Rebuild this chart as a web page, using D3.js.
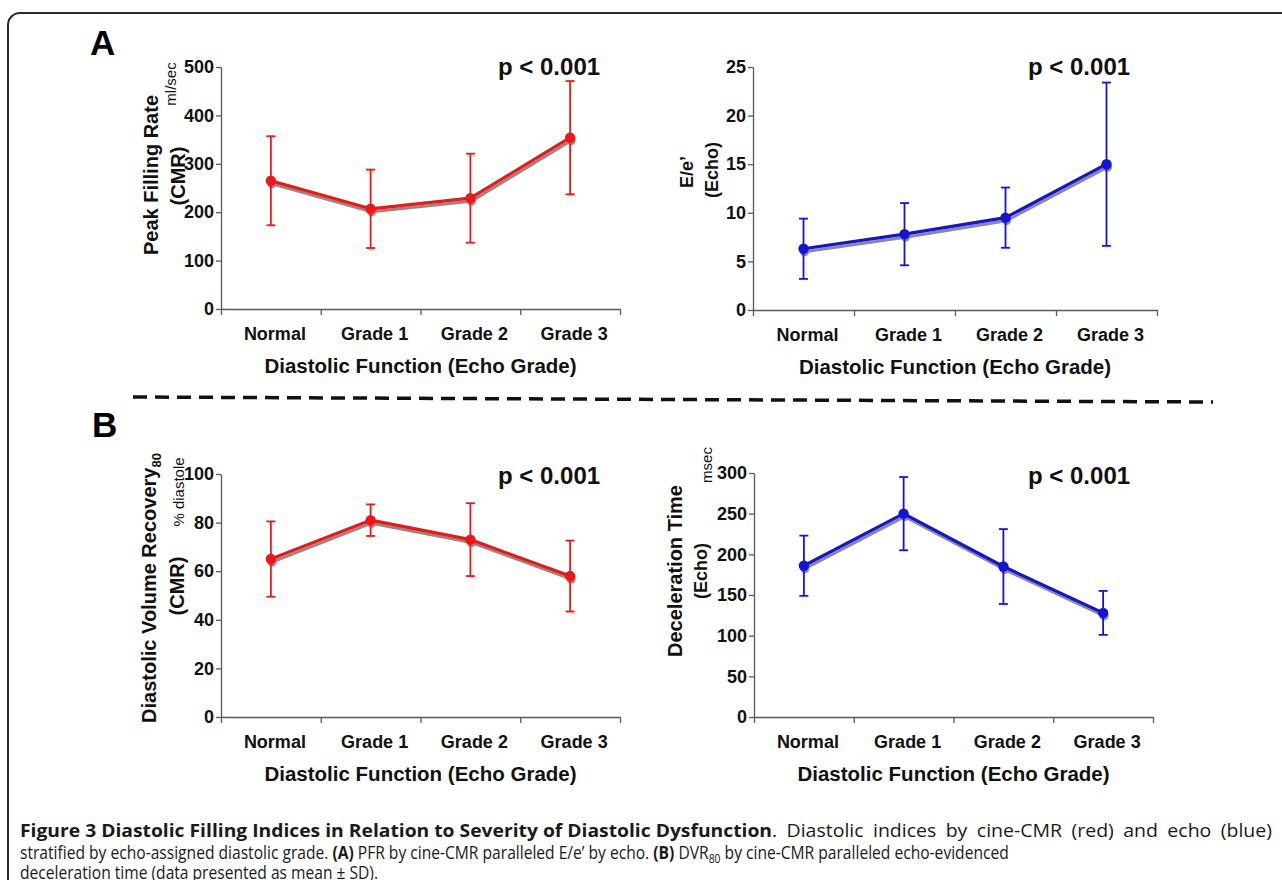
<!DOCTYPE html>
<html>
<head>
<meta charset="utf-8">
<script src="https://cdn.jsdelivr.net/npm/d3@7"></script>
<style>
body { margin: 0; background: #fff; }
svg { display: block; font-family: "Liberation Sans", Arial, Helvetica, sans-serif; }
</style>
</head>
<body>
<svg width="1282" height="880"></svg>
<script>
var grades = ["Normal", "Grade 1", "Grade 2", "Grade 3"];

// PFR by cine-CMR (ml/sec), mean and SD
var pfrMean = [265, 207, 229, 354];
var pfrSD = [92, 81, 92, 117];
var pfrTicks = [0, 100, 200, 300, 400, 500];

// E/e' by echo
var eeMean = [6.3, 7.8, 9.5, 15.0];
var eeSD = [3.1, 3.2, 3.1, 8.4];
var eeTicks = [0, 5, 10, 15, 20, 25];

// DVR80 by cine-CMR (% diastole)
var dvrMean = [65, 81, 73, 58];
var dvrSD = [15.5, 6.5, 15, 14.6];
var dvrTicks = [0, 20, 40, 60, 80, 100];

// deceleration time by echo (msec)
var dtMean = [186, 250, 185, 128];
var dtSD = [37, 45, 46, 27];
var dtTicks = [0, 50, 100, 150, 200, 250, 300];

var pLabel = "p < 0.001";
var xTitle = "Diastolic Function (Echo Grade)";

var red = "#f41414";
var blue = "#1414d8";

var svg = d3.select('svg');

// frame round the figure
svg.append('rect')
    .attr('x', 8).attr('y', 13)
    .attr('width', 1400).attr('height', 1000)
    .attr('rx', 12)
    .attr('fill', 'none')
    .attr('stroke', '#2a2a2a')
    .attr('stroke-width', 2);

var drawPanel = function (opt) {
    let w = opt.width, h = opt.height;
    let g = svg.append('g')
        .attr('transform', 'translate(' + opt.left + ',' + opt.top + ')');

    let xScale = d3.scaleBand().domain(grades).range([0, w]);
    let yScale = d3.scaleLinear().domain([0, d3.max(opt.ticks)]).range([h, 0]);
    let cx = function (i) { return xScale(grades[i]) + xScale.bandwidth() / 2; };

    let yAxis = d3.axisLeft(yScale)
        .tickValues(opt.ticks)
        .tickSize(5)
        .tickSizeOuter(0)
        .tickPadding(2);
    let yGroup = g.append('g').call(yAxis);

    // ticks sit on the band edges
    let edges = d3.scaleLinear().domain([0, grades.length]).range([0, w]);
    let xAxis = d3.axisBottom(edges)
        .tickValues(d3.range(grades.length + 1))
        .tickSize(6)
        .tickSizeOuter(0)
        .tickFormat('');
    let xGroup = g.append('g').attr('transform', 'translate(0,' + h + ')').call(xAxis);

    let labelAxis = d3.axisBottom(xScale).tickSize(0).tickPadding(18);
    let lGroup = g.append('g').attr('transform', 'translate(0,' + h + ')').call(labelAxis);
    lGroup.select('.domain').remove();
    lGroup.selectAll('text').attr('dx', 4);

    [yGroup, xGroup].forEach(function (a) {
        a.selectAll('.domain, line').attr('stroke', '#5a5a5a').attr('stroke-width', 1.3);
    });
    [yGroup, lGroup].forEach(function (a) {
        a.selectAll('text')
            .attr('font-size', 18)
            .attr('font-weight', 'bold')
            .attr('font-family', '"Liberation Sans", Arial, sans-serif')
            .attr('fill', '#111');
    });

    g.append('text')
        .attr('x', w / 2).attr('y', h + 64)
        .attr('text-anchor', 'middle')
        .attr('font-size', 20.5)
        .attr('font-weight', 'bold')
        .attr('fill', '#111')
        .text(xTitle);

    let line = d3.line()
        .x(function (d, i) { return cx(i); })
        .y(function (d) { return yScale(d); });

    // grey drop shadow under the line and dots
    let shadow = g.append('g').attr('transform', 'translate(1,3)');
    shadow.append('path')
        .datum(opt.mean)
        .attr('fill', 'none')
        .attr('stroke', '#8c8c8c')
        .attr('stroke-width', 3)
        .attr('stroke-linejoin', 'round')
        .attr('d', line);
    shadow.selectAll('circle')
        .data(opt.mean)
        .enter()
        .append('circle')
        .attr('cx', function (d, i) { return cx(i); })
        .attr('cy', function (d) { return yScale(d); })
        .attr('r', 4.5)
        .attr('fill', '#8c8c8c');

    let bars = g.append('g')
        .attr('stroke', opt.color)
        .attr('stroke-width', 1.8);
    opt.mean.forEach(function (m, i) {
        let lo = yScale(m - opt.sd[i]), hi = yScale(m + opt.sd[i]);
        bars.append('line').attr('x1', cx(i)).attr('x2', cx(i)).attr('y1', lo).attr('y2', hi);
        bars.append('line').attr('x1', cx(i) - 4.5).attr('x2', cx(i) + 4.5).attr('y1', lo).attr('y2', lo);
        bars.append('line').attr('x1', cx(i) - 4.5).attr('x2', cx(i) + 4.5).attr('y1', hi).attr('y2', hi);
    });

    g.append('path')
        .datum(opt.mean)
        .attr('fill', 'none')
        .attr('stroke', opt.color)
        .attr('stroke-width', 3.2)
        .attr('stroke-linejoin', 'round')
        .attr('d', line);

    g.selectAll('circle.dot')
        .data(opt.mean)
        .enter()
        .append('circle')
        .attr('class', 'dot')
        .attr('cx', function (d, i) { return cx(i); })
        .attr('cy', function (d) { return yScale(d); })
        .attr('r', 5.2)
        .attr('fill', opt.color);

    g.append('text')
        .attr('x', opt.pX - opt.left).attr('y', opt.pY - opt.top)
        .attr('font-size', 24)
        .attr('font-weight', 'bold')
        .attr('fill', '#111')
        .text(pLabel);

    // rotated y titles
    opt.titles.forEach(function (t) {
        let txt = svg.append('text')
            .attr('transform', 'translate(' + t.x + ',' + t.y + ')rotate(-90)')
            .attr('text-anchor', 'middle')
            .attr('font-size', t.size)
            .attr('font-weight', t.bold ? 'bold' : 'normal')
            .attr('fill', '#111');
        txt.append('tspan').text(t.text);
        if (t.sub) {
            txt.append('tspan')
                .attr('font-size', 13)
                .attr('baseline-shift', -5)
                .text(t.sub);
        }
    });
};

drawPanel({
    left: 221, top: 67, width: 399, height: 242,
    ticks: pfrTicks, mean: pfrMean, sd: pfrSD, color: red,
    pX: 498, pY: 75,
    titles: [
        {text: "Peak Filling Rate", x: 158, y: 175, size: 20, bold: true},
        {text: "(CMR)", x: 185, y: 176, size: 20, bold: true},
        {text: "ml/sec", x: 176, y: 84, size: 15, bold: false}
    ]
});

drawPanel({
    left: 753, top: 67, width: 404, height: 243,
    ticks: eeTicks, mean: eeMean, sd: eeSD, color: blue,
    pX: 1028, pY: 75,
    titles: [
        {text: "E/e\u2019", x: 693, y: 172, size: 18, bold: true},
        {text: "(Echo)", x: 718, y: 170, size: 18, bold: true}
    ]
});

drawPanel({
    left: 221, top: 474, width: 399, height: 243,
    ticks: dvrTicks, mean: dvrMean, sd: dvrSD, color: red,
    pX: 498, pY: 484,
    titles: [
        {text: "Diastolic Volume Recovery", sub: "80", x: 156, y: 588, size: 20, bold: true},
        {text: "(CMR)", x: 184, y: 586, size: 20, bold: true},
        {text: "% diastole", x: 184, y: 492, size: 15, bold: false}
    ]
});

drawPanel({
    left: 754, top: 473, width: 399, height: 244,
    ticks: dtTicks, mean: dtMean, sd: dtSD, color: blue,
    pX: 1028, pY: 484,
    titles: [
        {text: "Deceleration Time", x: 682, y: 571, size: 20, bold: true},
        {text: "(Echo)", x: 707, y: 571, size: 18, bold: true},
        {text: "msec", x: 712, y: 465, size: 15, bold: false}
    ]
});

// panel letters
svg.append('text').attr('x', 90).attr('y', 55)
    .attr('font-size', 35).attr('font-weight', 'bold').text('A');
svg.append('text').attr('x', 92).attr('y', 437)
    .attr('font-size', 35).attr('font-weight', 'bold').text('B');

// dashed separator between A and B
svg.append('line')
    .attr('x1', 133).attr('y1', 397)
    .attr('x2', 1213).attr('y2', 402)
    .attr('stroke', '#111')
    .attr('stroke-width', 3.5)
    .attr('stroke-dasharray', '14,8');

// caption: condensed face (horizontal squeeze), first line justified
var cap = svg.append('g')
    .attr('font-family', '"Open Sans", "Noto Sans", sans-serif')
    .attr('font-size', 18)
    .attr('fill', '#1a1a1a')
    .style('white-space', 'pre');

var l1b = cap.append('text').attr('x', 0).attr('y', 837)
    .attr('font-weight', 'bold')
    .text('Figure 3 Diastolic Filling Indices in Relation to Severity of Diastolic Dysfunction');
var l1r = cap.append('text').attr('y', 837)
    .attr('word-spacing', 4)
    .text('. Diastolic indices by cine-CMR (red) and echo (blue)');

var l2 = cap.append('text').attr('x', 0).attr('y', 859);
l2.append('tspan').text('stratified by echo-assigned diastolic grade. ');
l2.append('tspan').attr('font-weight', 'bold').text('(A)');
l2.append('tspan').text(' PFR by cine-CMR paralleled E/e\u2019 by echo. ');
l2.append('tspan').attr('font-weight', 'bold').text('(B)');
l2.append('tspan').text(' DVR');
l2.append('tspan').attr('font-size', 12).attr('baseline-shift', -4).text('80');
l2.append('tspan').text(' by cine-CMR paralleled echo-evidenced');

var l3 = cap.append('text').attr('x', 0).attr('y', 879)
    .text('deceleration time (data presented as mean \u00b1 SD).');

var sx = 990 / l2.node().getComputedTextLength();
cap.attr('transform', 'translate(20,0) scale(' + sx + ',1)');

// the first line fills the full width: bold run widened, regular run gets wider gaps
l1b.attr('textLength', 752 / sx).attr('lengthAdjust', 'spacingAndGlyphs');
l1r.attr('x', 752 / sx)
    .attr('textLength', 500 / sx)
    .attr('lengthAdjust', 'spacingAndGlyphs');
</script>
</body>
</html>
